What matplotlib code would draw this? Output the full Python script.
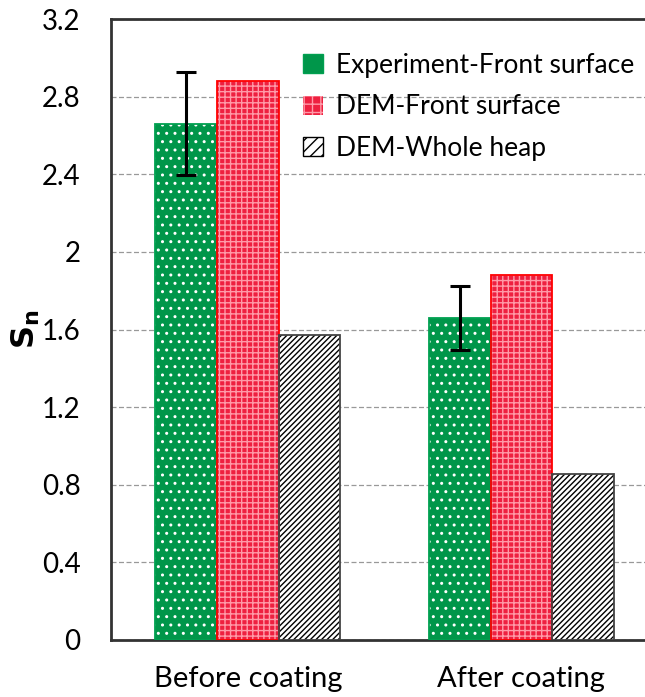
import matplotlib
matplotlib.use("Agg")
import matplotlib.pyplot as plt
import numpy as np
from matplotlib.patches import Patch

categories = ["Before coating", "After coating"]
series_names = ["Experiment-Front surface", "DEM-Front surface", "DEM-Whole heap"]
exp_front = [2.66, 1.66]
exp_front_err = [0.265, 0.165]
dem_front = [2.88, 1.88]
dem_whole = [1.57, 0.855]
yticks = [0, 0.4, 0.8, 1.2, 1.6, 2.0, 2.4, 2.8, 3.2]
ytick_labels = ["0", "0.4", "0.8", "1.2", "1.6", "2", "2.4", "2.8", "3.2"]

plt.rcParams["font.family"] = ["Lato", "DejaVu Sans"]
plt.rcParams["hatch.linewidth"] = 1.0

fig = plt.figure(figsize=(6.45, 6.97), dpi=100)
ax = fig.add_axes([0.172, 0.0818, 0.84, 0.8909])

x = np.arange(len(categories))
w = 0.225

styles = [
    dict(face="#00964a", hatch="..", hcol="white", edge="#00a050"),
    dict(face="#ee2040", hatch="+++", hcol="#ff9aa8", edge="#ff0000"),
    dict(face="white", hatch="//////", hcol="black", edge="#444444"),
]
values = [exp_front, dem_front, dem_whole]
offsets = [-w, 0, w]

for vals, off, st in zip(values, offsets, styles):
    # fill with pattern (hatch color comes from edgecolor)
    ax.bar(x + off, vals, w, color=st["face"], hatch=st["hatch"],
           edgecolor=st["hcol"], linewidth=0, zorder=3)
    # outline
    ax.bar(x + off, vals, w, fill=False, edgecolor=st["edge"],
           linewidth=1.3, zorder=4)

ax.errorbar(x - w, exp_front, yerr=exp_front_err, fmt="none", ecolor="black",
            elinewidth=2.2, capsize=7, capthick=2.2, zorder=5)

ax.set_ylim(0, 3.2)
ax.set_xlim(-0.5, 1.48)
ax.set_yticks(yticks)
ax.set_yticklabels(ytick_labels)
ax.set_xticks(x)
ax.set_xticklabels(categories)
ax.tick_params(axis="both", length=0, colors="black")
ax.tick_params(axis="y", pad=22, labelsize=20)
ax.tick_params(axis="x", pad=19, labelsize=21)
ax.yaxis.grid(True, linestyle=(0, (4, 2)), color="#999999", linewidth=0.9)
ax.set_axisbelow(True)

for s in ["left", "top", "bottom"]:
    ax.spines[s].set_color("#333333")
    ax.spines[s].set_linewidth(2)
ax.spines["right"].set_visible(False)

ax.set_ylabel(r"$\mathbf{S_n}$", fontsize=23, labelpad=0)

handles = [
    Patch(facecolor=styles[0]["face"], edgecolor=styles[0]["edge"], linewidth=1),
    Patch(facecolor=styles[1]["face"], hatch="++", edgecolor="#ff9aa8", linewidth=0),
    Patch(facecolor="white", hatch="///", edgecolor="black", linewidth=1),
]
leg = ax.legend(handles, series_names, loc="upper right", bbox_to_anchor=(1.0, 0.975),
                frameon=False, fontsize=19, handlelength=0.75, handleheight=0.75,
                handletextpad=0.5, labelspacing=0.62, borderpad=0.2)

fig.savefig("out.png", dpi=100)
